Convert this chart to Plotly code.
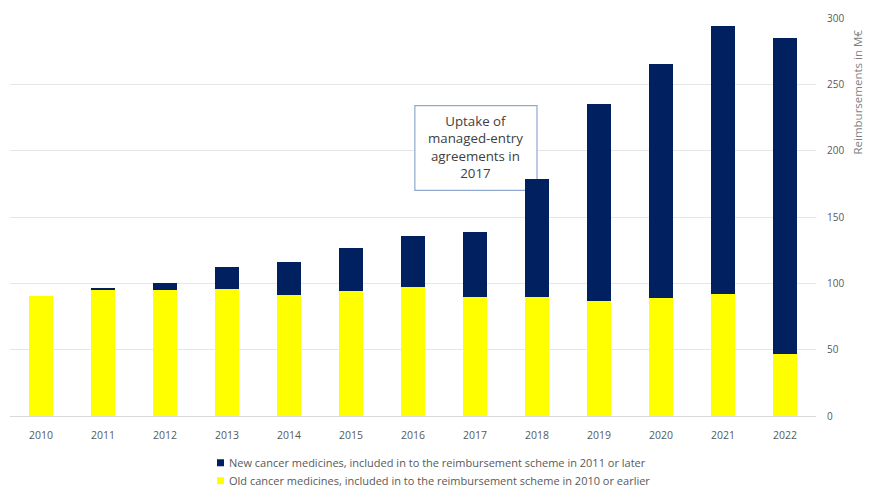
import plotly.graph_objects as go

# Reimbursements of cancer medicines, M€ per year
years = ["2010", "2011", "2012", "2013", "2014", "2015", "2016",
         "2017", "2018", "2019", "2020", "2021", "2022"]
old_meds = [90.5, 95, 95, 95.5, 91, 94, 97, 90, 90, 86.5, 89, 92, 47]
new_meds = [0, 1, 5, 16.5, 25, 32.5, 38.5, 48.5, 89, 148.5, 176, 202, 238]

y_ticks = [0, 50, 100, 150, 200, 250, 300]

NAVY = "#002060"
YELLOW = "#FFFF00"
GREY = "#595959"
FONT = "Open Sans"

new_label = "New cancer medicines, included in to the reimbursement scheme in 2011 or later"
old_label = "Old cancer medicines, included in to the reimbursement scheme in 2010 or earlier"

fig = go.Figure()
fig.add_trace(go.Bar(x=years, y=old_meds, marker_color=YELLOW,
                     marker_line_width=0, name=old_label, showlegend=False))
fig.add_trace(go.Bar(x=years, y=new_meds, marker_color=NAVY,
                     marker_line_width=0, name=new_label, showlegend=False))

# Callout box around the 2017 note
fig.add_shape(type="rect", xref="x", yref="y", x0=6.03, x1=8.0, y0=170, y1=234,
              line=dict(color="#8FA8D0", width=1.2), fillcolor="white",
              layer="between")
fig.add_annotation(x=7.015, y=203, xref="x", yref="y",
                   text="Uptake of<br>managed-entry<br>agreements in<br>2017",
                   showarrow=False, align="center",
                   font=dict(family=FONT, size=13.3, color="#404040"))

# Axis title placed at the top of the right-hand axis
fig.add_annotation(x=1.052, y=0.815, xref="paper", yref="paper",
                   xanchor="center", yanchor="middle",
                   text="Reimbursements in M€", textangle=-90, showarrow=False,
                   font=dict(family=FONT, size=11.5, color="#7F7F7F"))

# Legend drawn as small squares with labels below the plot
legend_rows = [(NAVY, new_label, -0.1175), (YELLOW, old_label, -0.1625)]
for color, label, yp in legend_rows:
    fig.add_shape(type="rect", xref="paper", yref="paper",
                  x0=0.2568, x1=0.2655, y0=yp - 0.0088, y1=yp + 0.0088,
                  fillcolor=color, line_width=0)
    fig.add_annotation(x=0.269, y=yp, xref="paper", yref="paper",
                       xanchor="left", yanchor="middle", text=label,
                       showarrow=False,
                       font=dict(family=FONT, size=11, color=GREY))

fig.update_layout(
    barmode="stack",
    bargap=0.6,
    width=869, height=487,
    margin=dict(l=10, r=53, t=16, b=71),
    plot_bgcolor="white", paper_bgcolor="white",
    font=dict(family=FONT, size=10, color=GREY),
    showlegend=False,
)
fig.update_xaxes(type="category", showgrid=False, showline=True,
                 linecolor="#D9D9D9", linewidth=1, ticks="",
                 ticklabelstandoff=9,
                 tickfont=dict(family=FONT, size=10.5, color=GREY))
fig.update_yaxes(side="right", range=[0, 300], tickvals=y_ticks,
                 showgrid=True, gridcolor="#E6E6E6", gridwidth=1,
                 zeroline=False, showline=False, ticks="",
                 ticklabelstandoff=10,
                 tickfont=dict(family=FONT, size=10, color=GREY))

fig.write_html("out.html")
